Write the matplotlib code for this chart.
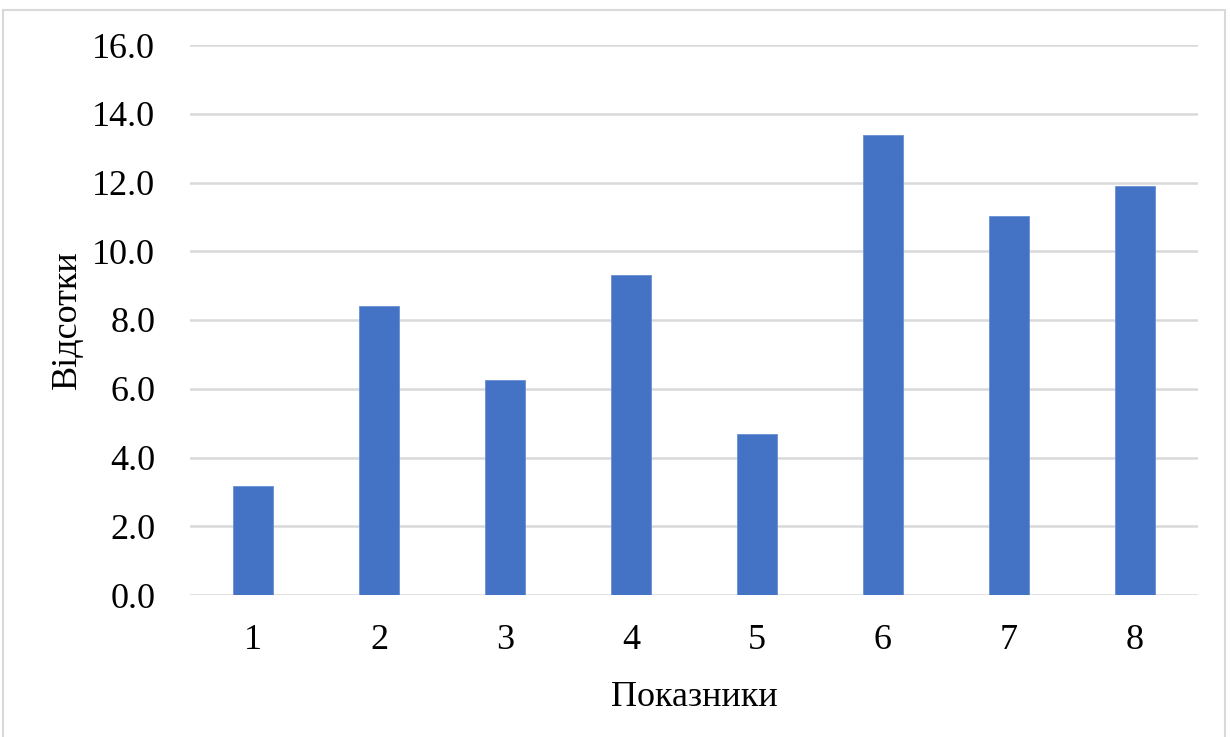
import matplotlib
matplotlib.use("Agg")
import matplotlib.pyplot as plt
from matplotlib.patches import Rectangle

categories = ["1", "2", "3", "4", "5", "6", "7", "8"]
values = [3.17, 8.40, 6.25, 9.31, 4.68, 13.38, 11.04, 11.90]
yticks = [0, 2, 4, 6, 8, 10, 12, 14, 16]
ytick_labels = [f"{v:.1f}" for v in yticks]

plt.rcParams['font.family'] = ['Liberation Serif', 'DejaVu Serif']

W, H = 1230, 737
fig = plt.figure(figsize=(W / 100, H / 100), dpi=100)
ax = fig.add_axes([190 / W, 1 - 595 / H, (1198 - 190) / W, (595 - 45) / H])

x = list(range(1, len(categories) + 1))
ax.bar(x, values, width=0.32, color="#4472C4", edgecolor="#6a8fd4", linewidth=0.6, zorder=3)

ax.set_xlim(0.5, len(categories) + 0.5)
ax.set_ylim(0, 16)
ax.set_yticks(yticks)
ax.set_yticklabels(ytick_labels)
ax.set_xticks(x)
ax.set_xticklabels(categories)
ax.yaxis.grid(True, color="#d9d9d9", linewidth=1.8, zorder=0)
ax.set_axisbelow(True)
for s in ["top", "right", "left", "bottom"]:
    ax.spines[s].set_visible(False)
ax.tick_params(axis="both", length=0, labelsize=26, colors="black")
ax.tick_params(axis="y", pad=25)
ax.tick_params(axis="x", pad=21)

ax.set_xlabel("Показники", fontsize=26, labelpad=17)
ax.set_ylabel("Відсотки", fontsize=26, labelpad=6)

fig.patches.append(Rectangle((3 / W, -0.05), (1225 - 3) / W, 1.05 - 10 / H,
                             transform=fig.transFigure, fill=False,
                             edgecolor="#d9d9d9", linewidth=1.5))

fig.savefig("out.png", dpi=100)
